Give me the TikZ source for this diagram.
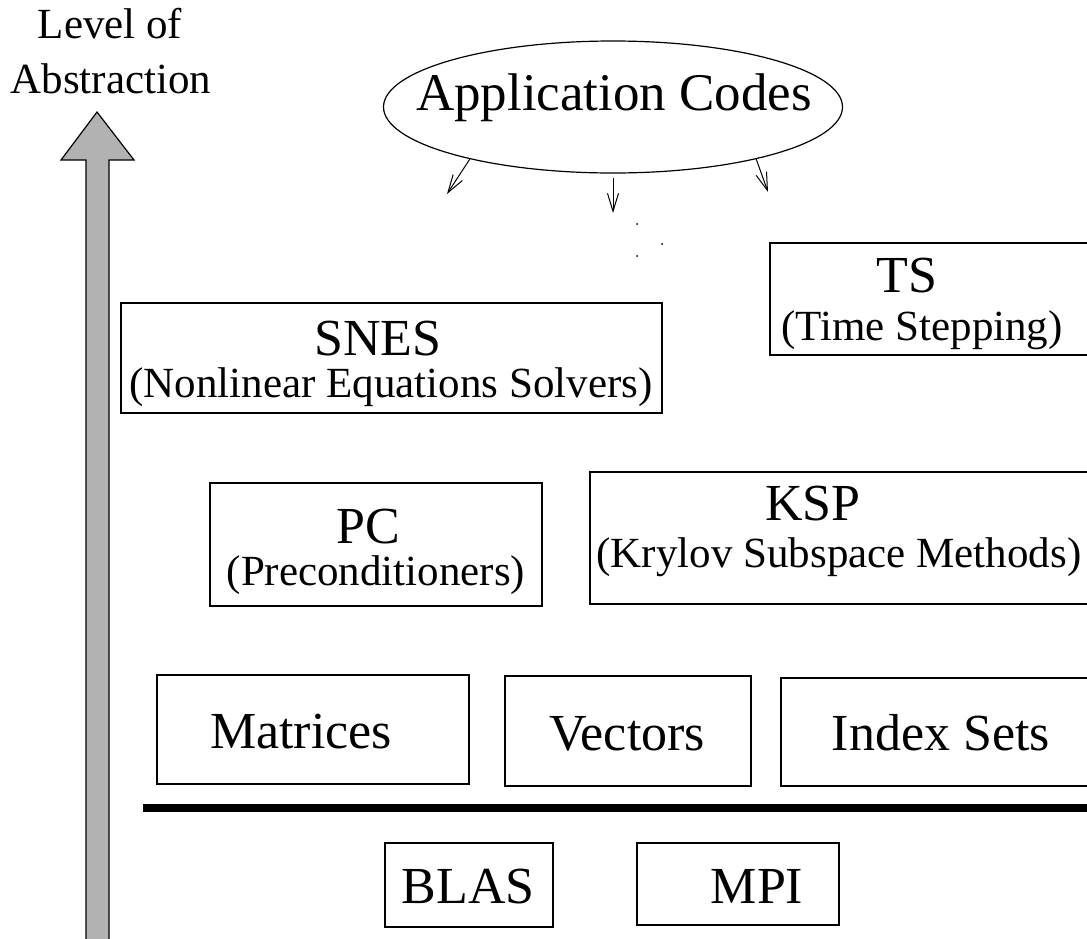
\documentclass[tikz,border=0pt]{standalone}
\usepackage{fontspec}
\setmainfont{Liberation Serif}
\usetikzlibrary{shapes.geometric,arrows.meta}
\tikzset{
  box/.style={draw,rectangle,line width=0.6pt,inner sep=0pt},
  title/.style={font=\fontsize{26}{28}\selectfont,inner sep=0pt,anchor=base},
  subtitle/.style={font=\fontsize{21.5}{24}\selectfont,inner sep=0pt,anchor=base},
  calls/.style={line width=0.5pt,-{Straight Barb[length=9pt,width=5.5pt]}}
}
\begin{document}
\begin{tikzpicture}[x=0.5pt,y=-0.5pt]
\useasboundingbox (0,0) rectangle (1087,938);
\clip (0,0) rectangle (1087,938);
% level of abstraction arrow
\draw[line width=0.6pt,fill=black!30] (86,950) -- (86,160) -- (61,160) -- (97,112)
  -- (134,160) -- (109,160) -- (109,950) -- cycle;
\node[subtitle] (lvl) at (110,38) {Level of};
\node[subtitle] (abs) at (111,93) {Abstraction};
% application codes
\node[draw,ellipse,line width=0.6pt,minimum width=229.5pt,minimum height=66pt,inner sep=0pt] (app) at (613,107) {};
\node[title,font=\fontsize{26.5}{28}\selectfont] (apptext) at (614,110) {Application Codes};
\coordinate (t1) at (447,194);
\coordinate (t2) at (613,213);
\coordinate (t3) at (768,192);
\draw[calls] (app.200) to (t1);
\draw[calls,shorten <=2pt] (app.south) to (t2);
\draw[calls] (app.340) to (t3);
\coordinate (d1) at (637,224);
\coordinate (d2) at (662,244);
\coordinate (d3) at (637,256);
\foreach \p in {d1,d2,d3}
	\fill (\p) circle (0.5pt);
% solvers
\node[box,minimum width=165pt,minimum height=56pt] (ts) at (935,299) {};
\node[title] (tstext) at (907,292) {TS};
\node[subtitle] (tssub) at (922,340) {(Time Stepping)};
\node[box,minimum width=270.5pt,minimum height=55pt] (snes) at (391.5,358) {};
\node[title] (snestext) at (378,355) {SNES};
\node[subtitle] (snessub) at (391,397) {(Nonlinear Equations Solvers)};
\node[box,minimum width=166pt,minimum height=61.5pt] (pc) at (376,544.5) {};
\node[title] (pctext) at (368,543) {PC};
\node[subtitle] (pcsub) at (376,585) {(Preconditioners)};
\node[box,minimum width=255pt,minimum height=66pt] (ksp) at (845,538) {};
\node[title] (ksptext) at (813,520) {KSP};
\node[subtitle] (kspsub) at (839,567) {(Krylov Subspace Methods)};
% data objects
\node[box,minimum width=156pt,minimum height=54.5pt] (mat) at (313,729.5) {};
\node[title] (mattext) at (301,748) {Matrices};
\node[box,minimum width=123pt,minimum height=55pt] (vec) at (628,731) {};
\node[title] (vectext) at (627,750) {Vectors};
\node[box,minimum width=159.5pt,minimum height=54pt] (is) at (940.5,732) {};
\node[title] (istext) at (941,750) {Index Sets};
\draw[line width=4pt] (143,808) -- (1100,808);
% libraries
\node[box,minimum width=84pt,minimum height=42pt] (blas) at (469,885) {};
\node[title] (blastext) at (468,903) {BLAS};
\node[box,minimum width=101pt,minimum height=41pt] (mpi) at (738,884) {};
\node[title] (mpitext) at (757,903) {MPI};
\end{tikzpicture}
\end{document}
